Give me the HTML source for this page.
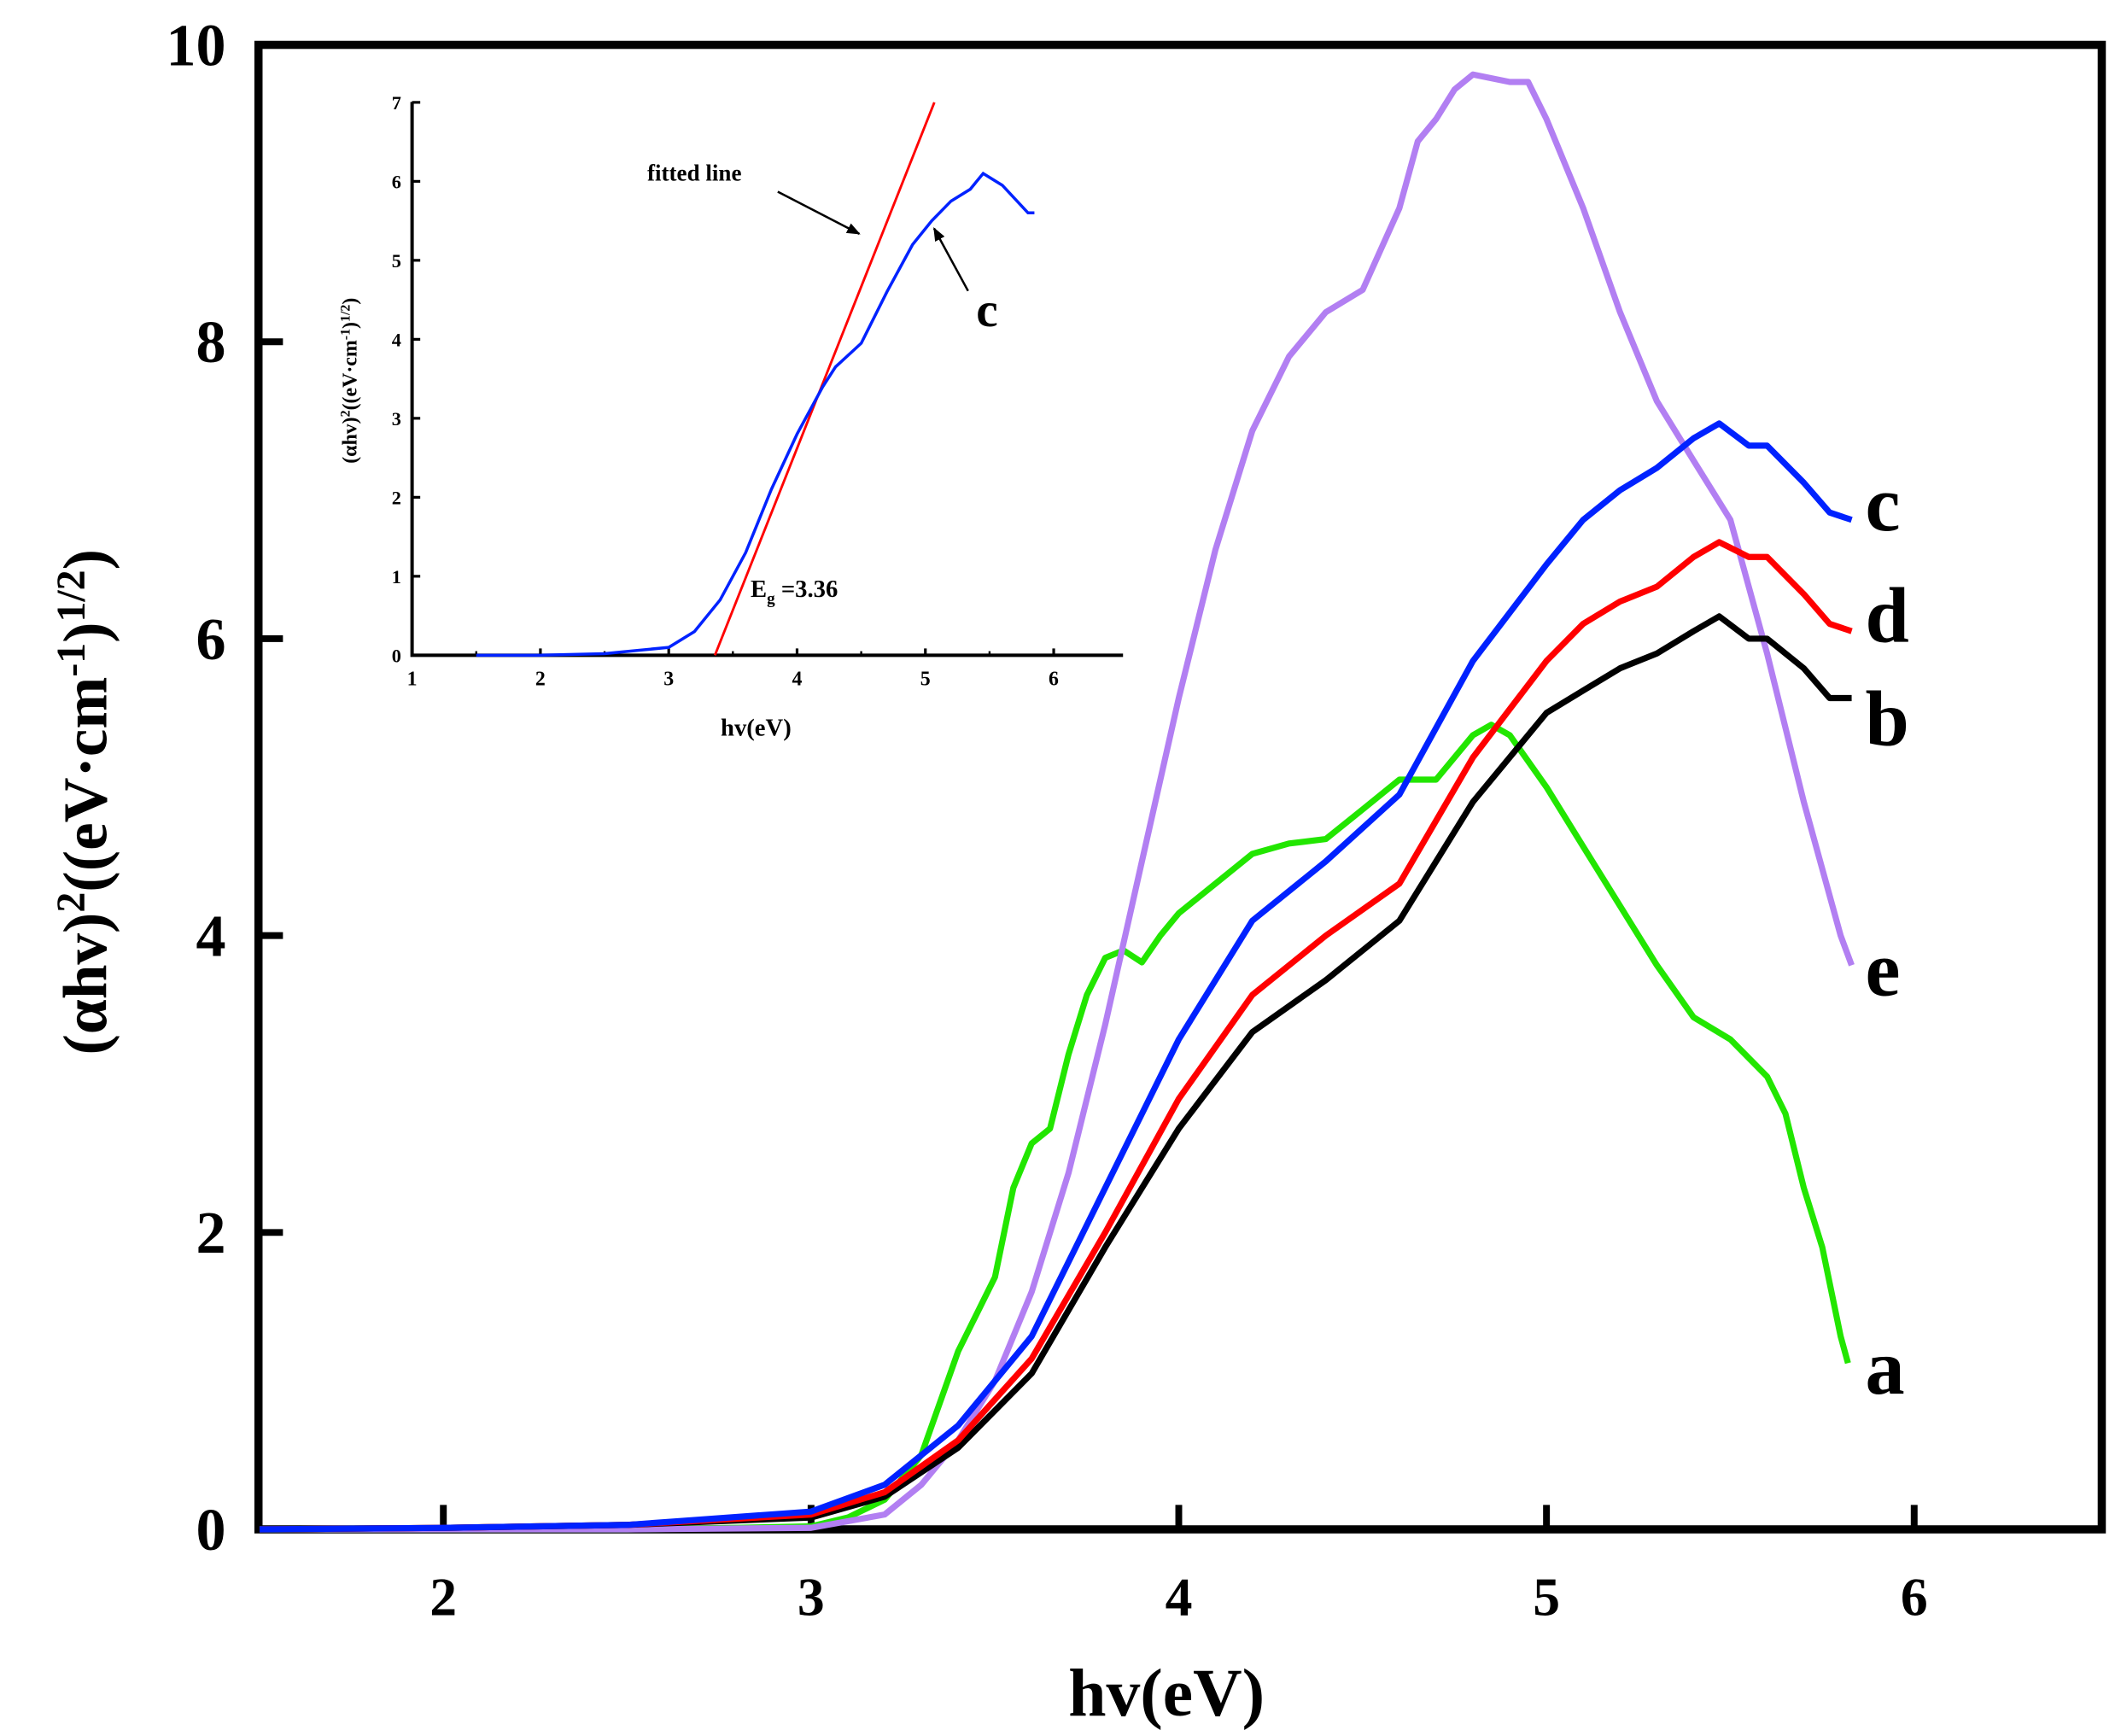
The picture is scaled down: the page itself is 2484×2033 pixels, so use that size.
<!DOCTYPE html>
<html><head><meta charset="utf-8"><style>
html,body{margin:0;padding:0;background:#fff}
svg{display:block}
text{font-family:"Liberation Serif",serif;font-weight:bold;fill:#000}
</style></head><body>
<svg id="chart" width="2484" height="2033" viewBox="0 0 1560 1277" xmlns="http://www.w3.org/2000/svg">
<rect x="0" y="0" width="1560" height="1277" fill="#fff"/>
<g id="main"></g>
<g id="inset"></g>
</svg>
<script>
const xTicks=[2,3,4,5,6];
const yTicks=[0,2,4,6,8,10];
const insetXTicks=[1,2,3,4,5,6];
const insetYTicks=[0,1,2,3,4,5,6,7];
const xA=[1.5,2.0,2.5,2.8,3.0,3.1,3.2,3.3,3.4,3.5,3.55,3.6,3.65,3.7,3.75,3.8,3.85,3.9,3.95,4.0,4.1,4.2,4.3,4.4,4.5,4.6,4.7,4.8,4.85,4.9,5.0,5.1,5.2,5.3,5.4,5.5,5.6,5.65,5.7,5.75,5.8,5.82];
const yA=[0,0,0,0.01,0.02,0.08,0.2,0.5,1.2,1.7,2.3,2.6,2.7,3.2,3.6,3.85,3.9,3.82,4.0,4.15,4.35,4.55,4.62,4.65,4.85,5.05,5.05,5.35,5.42,5.35,5.0,4.6,4.2,3.8,3.45,3.3,3.05,2.8,2.3,1.9,1.3,1.12];
const xE=[1.5,2.0,2.5,3.0,3.2,3.3,3.4,3.5,3.6,3.7,3.8,3.9,4.0,4.1,4.2,4.3,4.4,4.5,4.6,4.65,4.7,4.75,4.8,4.9,4.95,5.0,5.1,5.2,5.3,5.4,5.5,5.6,5.7,5.8,5.83];
const yE=[0,0,0,0.01,0.1,0.3,0.6,1.0,1.6,2.4,3.4,4.5,5.6,6.6,7.4,7.9,8.2,8.35,8.9,9.35,9.5,9.7,9.8,9.75,9.75,9.5,8.9,8.2,7.6,7.2,6.8,5.9,4.9,4.0,3.8];
const xBCD=[1.5,2.0,2.5,3.0,3.2,3.4,3.6,3.8,4.0,4.2,4.4,4.6,4.8,5.0,5.1,5.2,5.3,5.4,5.47,5.55,5.6,5.7,5.77,5.83];
const yC=[0,0.01,0.03,0.12,0.3,0.7,1.3,2.3,3.3,4.1,4.5,4.95,5.85,6.5,6.8,7.0,7.15,7.35,7.45,7.3,7.3,7.05,6.85,6.8];
const yD=[0,0.01,0.03,0.1,0.25,0.6,1.15,2.0,2.9,3.6,4.0,4.35,5.2,5.85,6.1,6.25,6.35,6.55,6.65,6.55,6.55,6.3,6.1,6.05];
const yB=[0,0.01,0.03,0.08,0.22,0.55,1.05,1.9,2.7,3.35,3.7,4.1,4.9,5.5,5.65,5.8,5.9,6.05,6.15,6.0,6.0,5.8,5.6,5.6];
const xIn=[1.5,2.0,2.5,3.0,3.2,3.4,3.6,3.8,4.0,4.2,4.3,4.5,4.7,4.9,5.05,5.2,5.35,5.45,5.5,5.6,5.8,5.85];
const yIn=[0,0,0.02,0.1,0.3,0.7,1.3,2.1,2.8,3.4,3.65,3.95,4.6,5.2,5.5,5.75,5.9,6.1,6.05,5.95,5.6,5.6];
const fitX=[3.36,5.07];
const fitY=[0,7];

const NS="http://www.w3.org/2000/svg";
function mk(tag,attrs,parent,txt){const e=document.createElementNS(NS,tag);for(const k in attrs)e.setAttribute(k,attrs[k]);if(txt!==undefined)e.textContent=txt;parent.appendChild(e);return e;}
const main=document.getElementById('main');
const X=v=>326+(v-2)*270.5;
const Y=v=>1125-v*109.2;
const L=190,R=1546,T=33,B=1125;
function pathFrom(xs,ys,fx,fy){return xs.map((x,i)=>(i?'L':'M')+fx(x).toFixed(1)+','+fy(ys[i]).toFixed(1)).join(' ');}

let frame=mk('rect',{x:L,y:T,width:R-L,height:B-T,fill:'none',stroke:'#000','stroke-width':6},main);


xTicks.forEach(t=>{
  let l=mk('line',{x1:X(t),x2:X(t),y1:B,y2:B-18,stroke:'#000','stroke-width':5},main);
  
  
  let tx=mk('text',{x:X(t),y:1188,'text-anchor':'middle','font-size':40},main,String(t));
  
  
});
yTicks.forEach(t=>{
  if(t>0&&t<10){let l=mk('line',{x1:L,x2:L+18,y1:Y(t),y2:Y(t),stroke:'#000','stroke-width':5},main);
  
  }
  let tx=mk('text',{x:166,y:Y(t)+15,'text-anchor':'end','font-size':44},main,String(t));
  
  
});
let xt=mk('text',{x:858,y:1262,'text-anchor':'middle','font-size':50},main,'hv(eV)');


let yt=mk('text',{transform:'translate(78,590) rotate(-90)','text-anchor':'middle','font-size':46},main);


yt.innerHTML='(αhv)<tspan dy="-16" font-size="30">2</tspan><tspan dy="16">((eV·cm</tspan><tspan dy="-16" font-size="30">-1</tspan><tspan dy="16">)</tspan><tspan dy="-16" font-size="30">1/2</tspan><tspan dy="16">)</tspan>';

const series=[
 {xs:xA,ys:yA,c:'#22e600',n:'series-a'},
 {xs:xE,ys:yE,c:'#b27ff2',n:'series-e'},
 {xs:xBCD,ys:yB,c:'#000',n:'series-b'},
 {xs:xBCD,ys:yD,c:'#ff0000',n:'series-d'},
 {xs:xBCD,ys:yC,c:'#0022ff',n:'series-c'}];
series.forEach(s=>{
  let p=mk('path',{d:pathFrom(s.xs,s.ys,X,Y),fill:'none',stroke:s.c,'stroke-width':4.5,'stroke-linejoin':'round'},main);
  
  
});
[['c',390],['d',472],['b',548],['e',732],['a',1025]].forEach(([t,y])=>{
  let tx=mk('text',{x:1372,y:y,'font-size':58},main,t);
  
  
});

// inset
const ins=document.getElementById('inset');
const IX=v=>303+(v-1)*94.4;
const IY=v=>482-v*58.1;
let ax=mk('path',{d:'M303,75 L303,482 L826,482',fill:'none',stroke:'#000','stroke-width':2.5},ins);


insetXTicks.forEach(t=>{
  let l=mk('line',{x1:IX(t),x2:IX(t),y1:482,y2:477,stroke:'#000','stroke-width':2},ins);
  
  
  let tx=mk('text',{x:IX(t),y:504,'text-anchor':'middle','font-size':15,'font-weight':'normal'},ins,String(t));
  
  
});
[1.5,2.5,3.5,4.5,5.5].forEach(t=>{
  let l=mk('line',{x1:IX(t),x2:IX(t),y1:482,y2:479,stroke:'#000','stroke-width':1.5},ins);
  
  
});
insetYTicks.forEach(t=>{
  let l=mk('line',{x1:303,x2:309,y1:IY(t),y2:IY(t),stroke:'#000','stroke-width':2},ins);
  
  
  let tx=mk('text',{x:295,y:IY(t)+5,'text-anchor':'end','font-size':14,'font-weight':'normal'},ins,String(t));
  
  
});
let ixt=mk('text',{x:556,y:541,'text-anchor':'middle','font-size':18},ins,'hv(eV)');


let iyt=mk('text',{transform:'translate(262,280) rotate(-90)','text-anchor':'middle','font-size':15},ins);


iyt.innerHTML='(αhv)<tspan dy="-5" font-size="10">2</tspan><tspan dy="5">((eV·cm</tspan><tspan dy="-5" font-size="10">-1</tspan><tspan dy="5">)</tspan><tspan dy="-5" font-size="10">1/2</tspan><tspan dy="5">)</tspan>';
let fl=mk('line',{x1:IX(fitX[0]),y1:IY(fitY[0]),x2:IX(fitX[1]),y2:IY(fitY[1]),stroke:'#ff0000','stroke-width':1.8},ins);


let ic=mk('path',{d:pathFrom(xIn,yIn,IX,IY),fill:'none',stroke:'#0022ff','stroke-width':2.2},ins);


mk('defs',{},ins).innerHTML='<marker id="ah" markerWidth="10" markerHeight="8" refX="9" refY="4" orient="auto" markerUnits="userSpaceOnUse"><path d="M0,0 L10,4 L0,8 z" fill="#000"/></marker>';
let a1=mk('line',{x1:572,y1:141,x2:632,y2:172,stroke:'#000','stroke-width':1.6,'marker-end':'url(#ah)'},ins);


let a2=mk('line',{x1:712,y1:214,x2:687,y2:168,stroke:'#000','stroke-width':1.6,'marker-end':'url(#ah)'},ins);


let t1=mk('text',{x:476,y:133,'font-size':17},ins,'fitted line');


let t2=mk('text',{x:718,y:240,'font-size':36},ins,'c');


let t3=mk('text',{x:552,y:439,'font-size':18,'font-weight':'normal'},ins);


t3.innerHTML='E<tspan dy="5" font-size="12">g</tspan><tspan dy="-5"> =3.36</tspan>';
</script>
</body></html>
